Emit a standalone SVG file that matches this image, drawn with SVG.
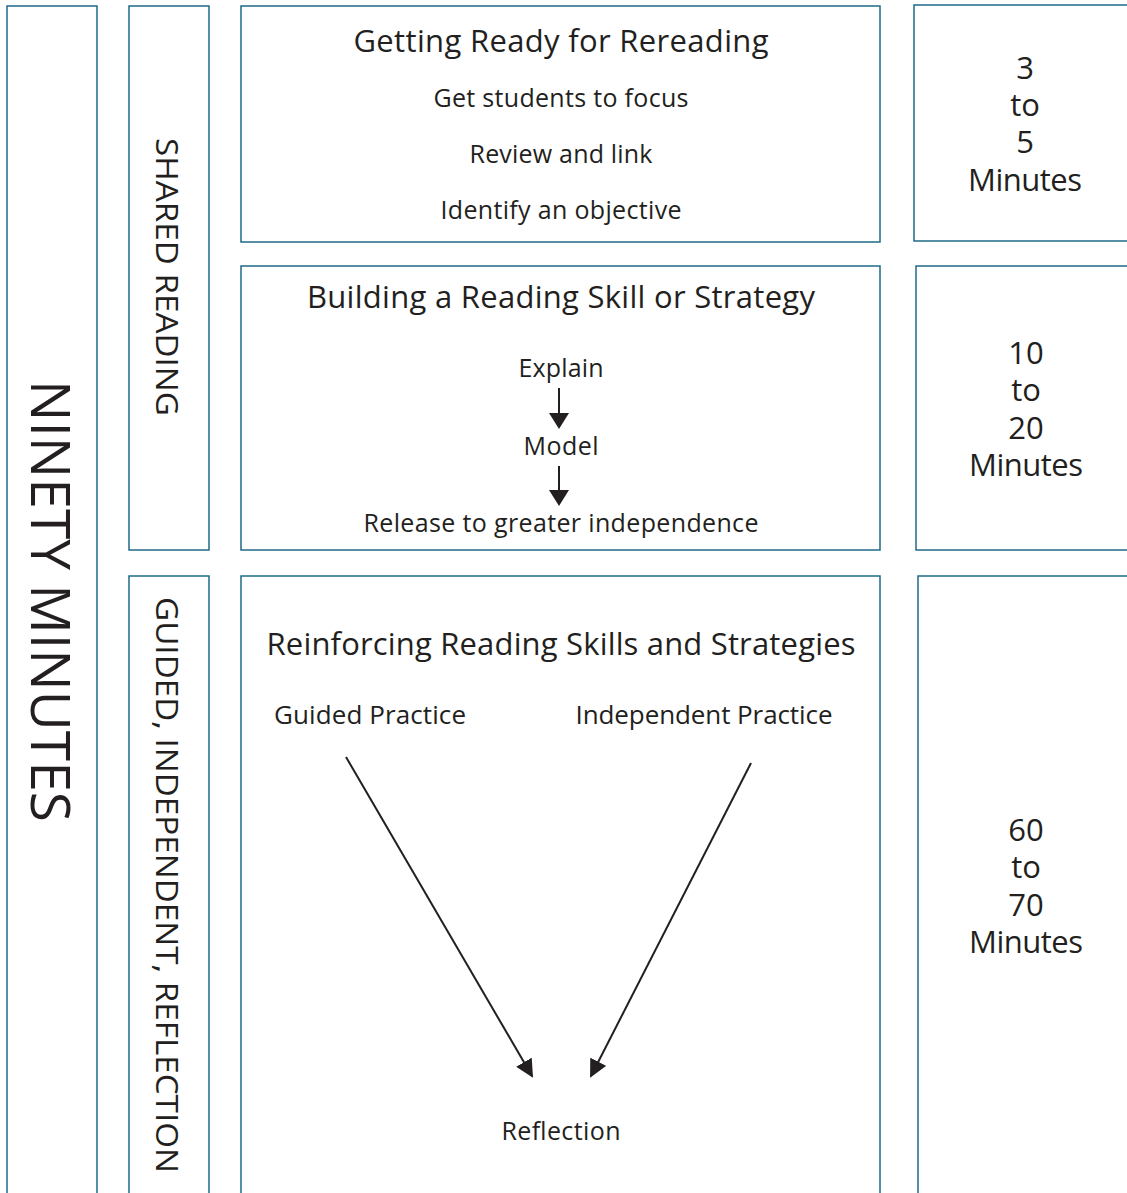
<svg xmlns="http://www.w3.org/2000/svg" width="1127" height="1193" viewBox="0 0 1127 1193">
<style>
.box{fill:#fff;stroke:#1f6a88;stroke-width:1.5}
text{font-family:"Open Sans",Lato,"Liberation Sans",sans-serif;fill:#231f20;text-anchor:middle}
.h{font-size:31px}
.b{font-size:25px}
.t{font-size:31px}
.g{font-size:26px}
.v{font-size:31px}
.n{font-size:54px}
.c{stroke:#231f20;stroke-width:2;fill:none}
</style>
<defs>
<marker id="ah" markerWidth="16" markerHeight="20" refX="14" refY="10" orient="auto" markerUnits="userSpaceOnUse" viewBox="0 0 16 20">
<path d="M0,0 L16,10 L0,20 z" fill="#231f20"/>
</marker>
<marker id="ah2" markerWidth="18" markerHeight="18" refX="16" refY="9" orient="auto" markerUnits="userSpaceOnUse" viewBox="0 0 18 18">
<path d="M0,0 L18,9 L0,18 z" fill="#231f20"/>
</marker>
</defs>
<g id="ninety">
<rect class="box" x="7" y="6" width="90" height="1200"/>
<text class="n" transform="translate(50,601) rotate(90)" dy="19" textLength="442" lengthAdjust="spacingAndGlyphs">NINETY MINUTES</text>
</g>
<g id="shared">
<rect class="box" x="129" y="6" width="80" height="544"/>
<text class="v" transform="translate(167,277) rotate(90)" dy="11" textLength="278" lengthAdjust="spacingAndGlyphs">SHARED READING</text>
</g>
<g id="guided">
<rect class="box" x="129" y="576" width="80" height="630"/>
<text class="v" transform="translate(167,885) rotate(90)" dy="11" textLength="576" lengthAdjust="spacingAndGlyphs">GUIDED, INDEPENDENT, REFLECTION</text>
</g>
<g id="getting-ready">
<rect class="box" x="241" y="6" width="639" height="236"/>
<text class="h" x="561" y="52" textLength="415">Getting Ready for Rereading</text>
<text class="b" x="561" y="107" textLength="255">Get students to focus</text>
<text class="b" x="561" y="163" textLength="183">Review and link</text>
<text class="b" x="561" y="219" textLength="241">Identify an objective</text>
</g>
<g id="building">
<rect class="box" x="241" y="266" width="639" height="284"/>
<text class="h" x="561" y="308" textLength="508">Building a Reading Skill or Strategy</text>
<text class="b" x="561" y="377" textLength="85">Explain</text>
<text class="b" x="561" y="455" textLength="75">Model</text>
<text class="b" x="561" y="532" textLength="395">Release to greater independence</text>
</g>
<g id="reinforcing">
<rect class="box" x="241" y="576" width="639" height="630"/>
<text class="h" x="561" y="655" textLength="589">Reinforcing Reading Skills and Strategies</text>
<text class="g" x="370" y="724" textLength="192">Guided Practice</text>
<text class="g" x="704" y="724" textLength="257">Independent Practice</text>
<text class="b" x="561" y="1140" textLength="119">Reflection</text>
</g>
<g id="time-1">
<rect class="box" x="914" y="5" width="230" height="236"/>
<text class="t" x="1025" y="79">3</text>
<text class="t" x="1025" y="116">to</text>
<text class="t" x="1025" y="153">5</text>
<text class="t" x="1025" y="191" textLength="114">Minutes</text>
</g>
<g id="time-2">
<rect class="box" x="916" y="266" width="230" height="284"/>
<text class="t" x="1026" y="364">10</text>
<text class="t" x="1026" y="401">to</text>
<text class="t" x="1026" y="439">20</text>
<text class="t" x="1026" y="476" textLength="114">Minutes</text>
</g>
<g id="time-3">
<rect class="box" x="918" y="576" width="230" height="630"/>
<text class="t" x="1026" y="841">60</text>
<text class="t" x="1026" y="878">to</text>
<text class="t" x="1026" y="916">70</text>
<text class="t" x="1026" y="953" textLength="114">Minutes</text>
</g>
<g id="connectors">
<line class="c" x1="559" y1="388" x2="559" y2="427" marker-end="url(#ah)"/>
<line class="c" x1="559" y1="466" x2="559" y2="504" marker-end="url(#ah)"/>
<line class="c" x1="346" y1="757" x2="532" y2="1076" marker-end="url(#ah2)"/>
<line class="c" x1="751" y1="763" x2="591" y2="1076" marker-end="url(#ah2)"/>
</g>
</svg>
